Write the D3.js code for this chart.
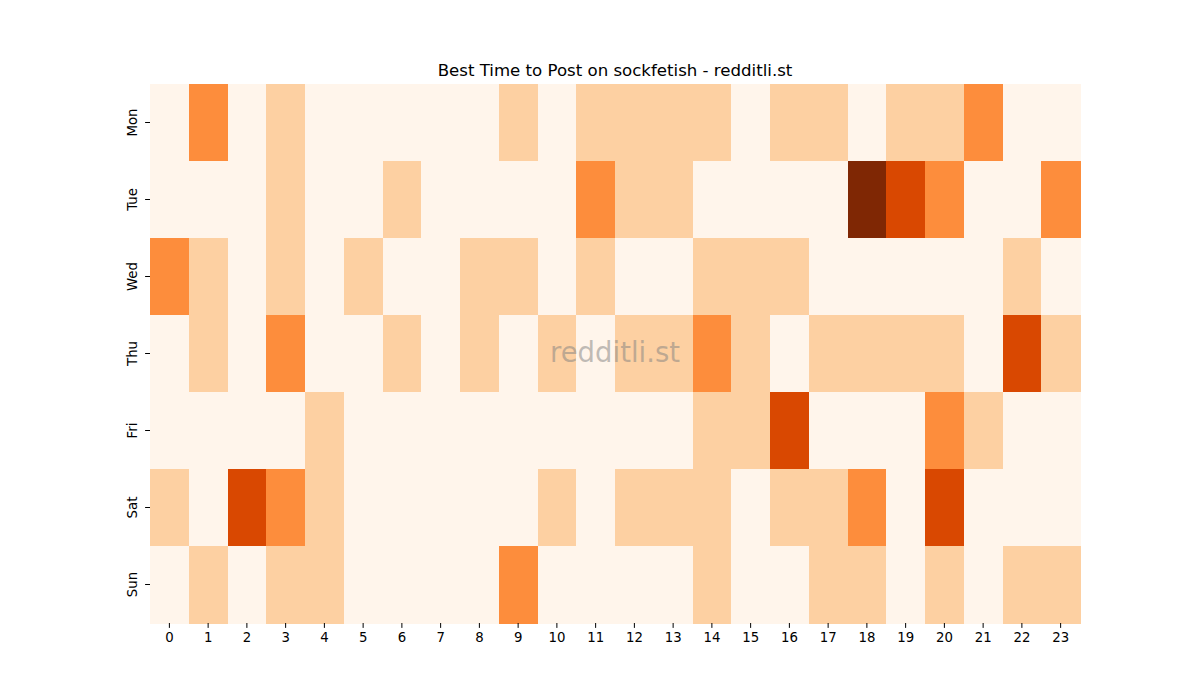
<!DOCTYPE html>
<html><head><meta charset="utf-8">
<script src="https://cdn.jsdelivr.net/npm/d3@7"></script>
<style>body{margin:0;background:#fff}svg{display:block}</style>
</head><body><svg id="c" width="1200" height="700"></svg>
<script>
const days = ["Mon","Tue","Wed","Thu","Fri","Sat","Sun"];
const hours = ["0","1","2","3","4","5","6","7","8","9","10","11","12","13","14","15","16","17","18","19","20","21","22","23"];
const mon = [0,2,0,1,0,0,0,0,0,1,0,1,1,1,1,0,1,1,0,1,1,2,0,0];
const tue = [0,0,0,1,0,0,1,0,0,0,0,2,1,1,0,0,0,0,4,3,2,0,0,2];
const wed = [2,1,0,1,0,1,0,0,1,1,0,1,0,0,1,1,1,0,0,0,0,0,1,0];
const thu = [0,1,0,2,0,0,1,0,1,0,1,0,1,1,2,1,0,1,1,1,1,0,3,1];
const fri = [0,0,0,0,1,0,0,0,0,0,0,0,0,0,1,1,3,0,0,0,2,1,0,0];
const sat = [1,0,3,2,1,0,0,0,0,0,1,0,1,1,1,0,1,1,2,0,3,0,0,0];
const sun = [0,1,0,1,1,0,0,0,0,2,0,0,0,0,1,0,0,1,1,0,1,0,1,1];
const rows = [mon,tue,wed,thu,fri,sat,sun];
const title = "Best Time to Post on sockfetish - redditli.st";
const watermark = "redditli.st";

const svg = d3.select("#c");
const L=150,R=1080,T=84,B=623;
const x = d3.scaleBand().domain(hours).range([L,R]);
const y = d3.scaleBand().domain(days).range([T,B]);
const color = d3.scaleOrdinal().domain([0,1,2,3,4]).range(["#fff5eb","#fdd0a2","#fd8d3c","#d94801","#7f2704"]);

const cells = [];
rows.forEach((r,i)=>r.forEach((v,j)=>cells.push({d:days[i],h:hours[j],v})));
svg.append("g").selectAll("rect").data(cells).join("rect")
  .attr("x",d=>x(d.h)).attr("y",d=>y(d.d))
  .attr("width",x.bandwidth()+0.5).attr("height",y.bandwidth()+0.5)
  .attr("fill",d=>color(d.v)).attr("shape-rendering","crispEdges");

const font = "DejaVu Sans, sans-serif";
const xa = svg.append("g").attr("transform",`translate(0,${B})`)
  .call(d3.axisBottom(x).tickSize(4.9).tickPadding(4.5));
xa.select(".domain").remove();
xa.selectAll("text").attr("font-family",font).attr("font-size",13.3).attr("fill","#000");
xa.selectAll("line").attr("stroke","#000").attr("stroke-width",1);

const ya = svg.append("g").attr("transform",`translate(${L},0)`)
  .call(d3.axisLeft(y).tickSize(4.9).tickPadding(4.5));
ya.select(".domain").remove();
ya.selectAll("line").attr("stroke","#000").attr("stroke-width",1);
ya.selectAll("text").attr("font-family",font).attr("font-size",13.3).attr("fill","#000")
  .attr("text-anchor","middle").attr("dy",null)
  .attr("transform",function(){return `translate(-17.5,0) rotate(-90)`;})
  .attr("x",0).attr("y",0).attr("dominant-baseline","central");

svg.append("text").attr("x",(L+R)/2).attr("y",76).attr("text-anchor","middle")
  .attr("font-family",font).attr("font-size",16.6).attr("fill","#000").text(title);

svg.append("text").attr("x",(L+R)/2).attr("y",352).attr("text-anchor","middle")
  .attr("dominant-baseline","central")
  .attr("font-family",font).attr("font-size",27.5).attr("fill","#808080").attr("fill-opacity",0.5).text(watermark);
</script></body></html>
